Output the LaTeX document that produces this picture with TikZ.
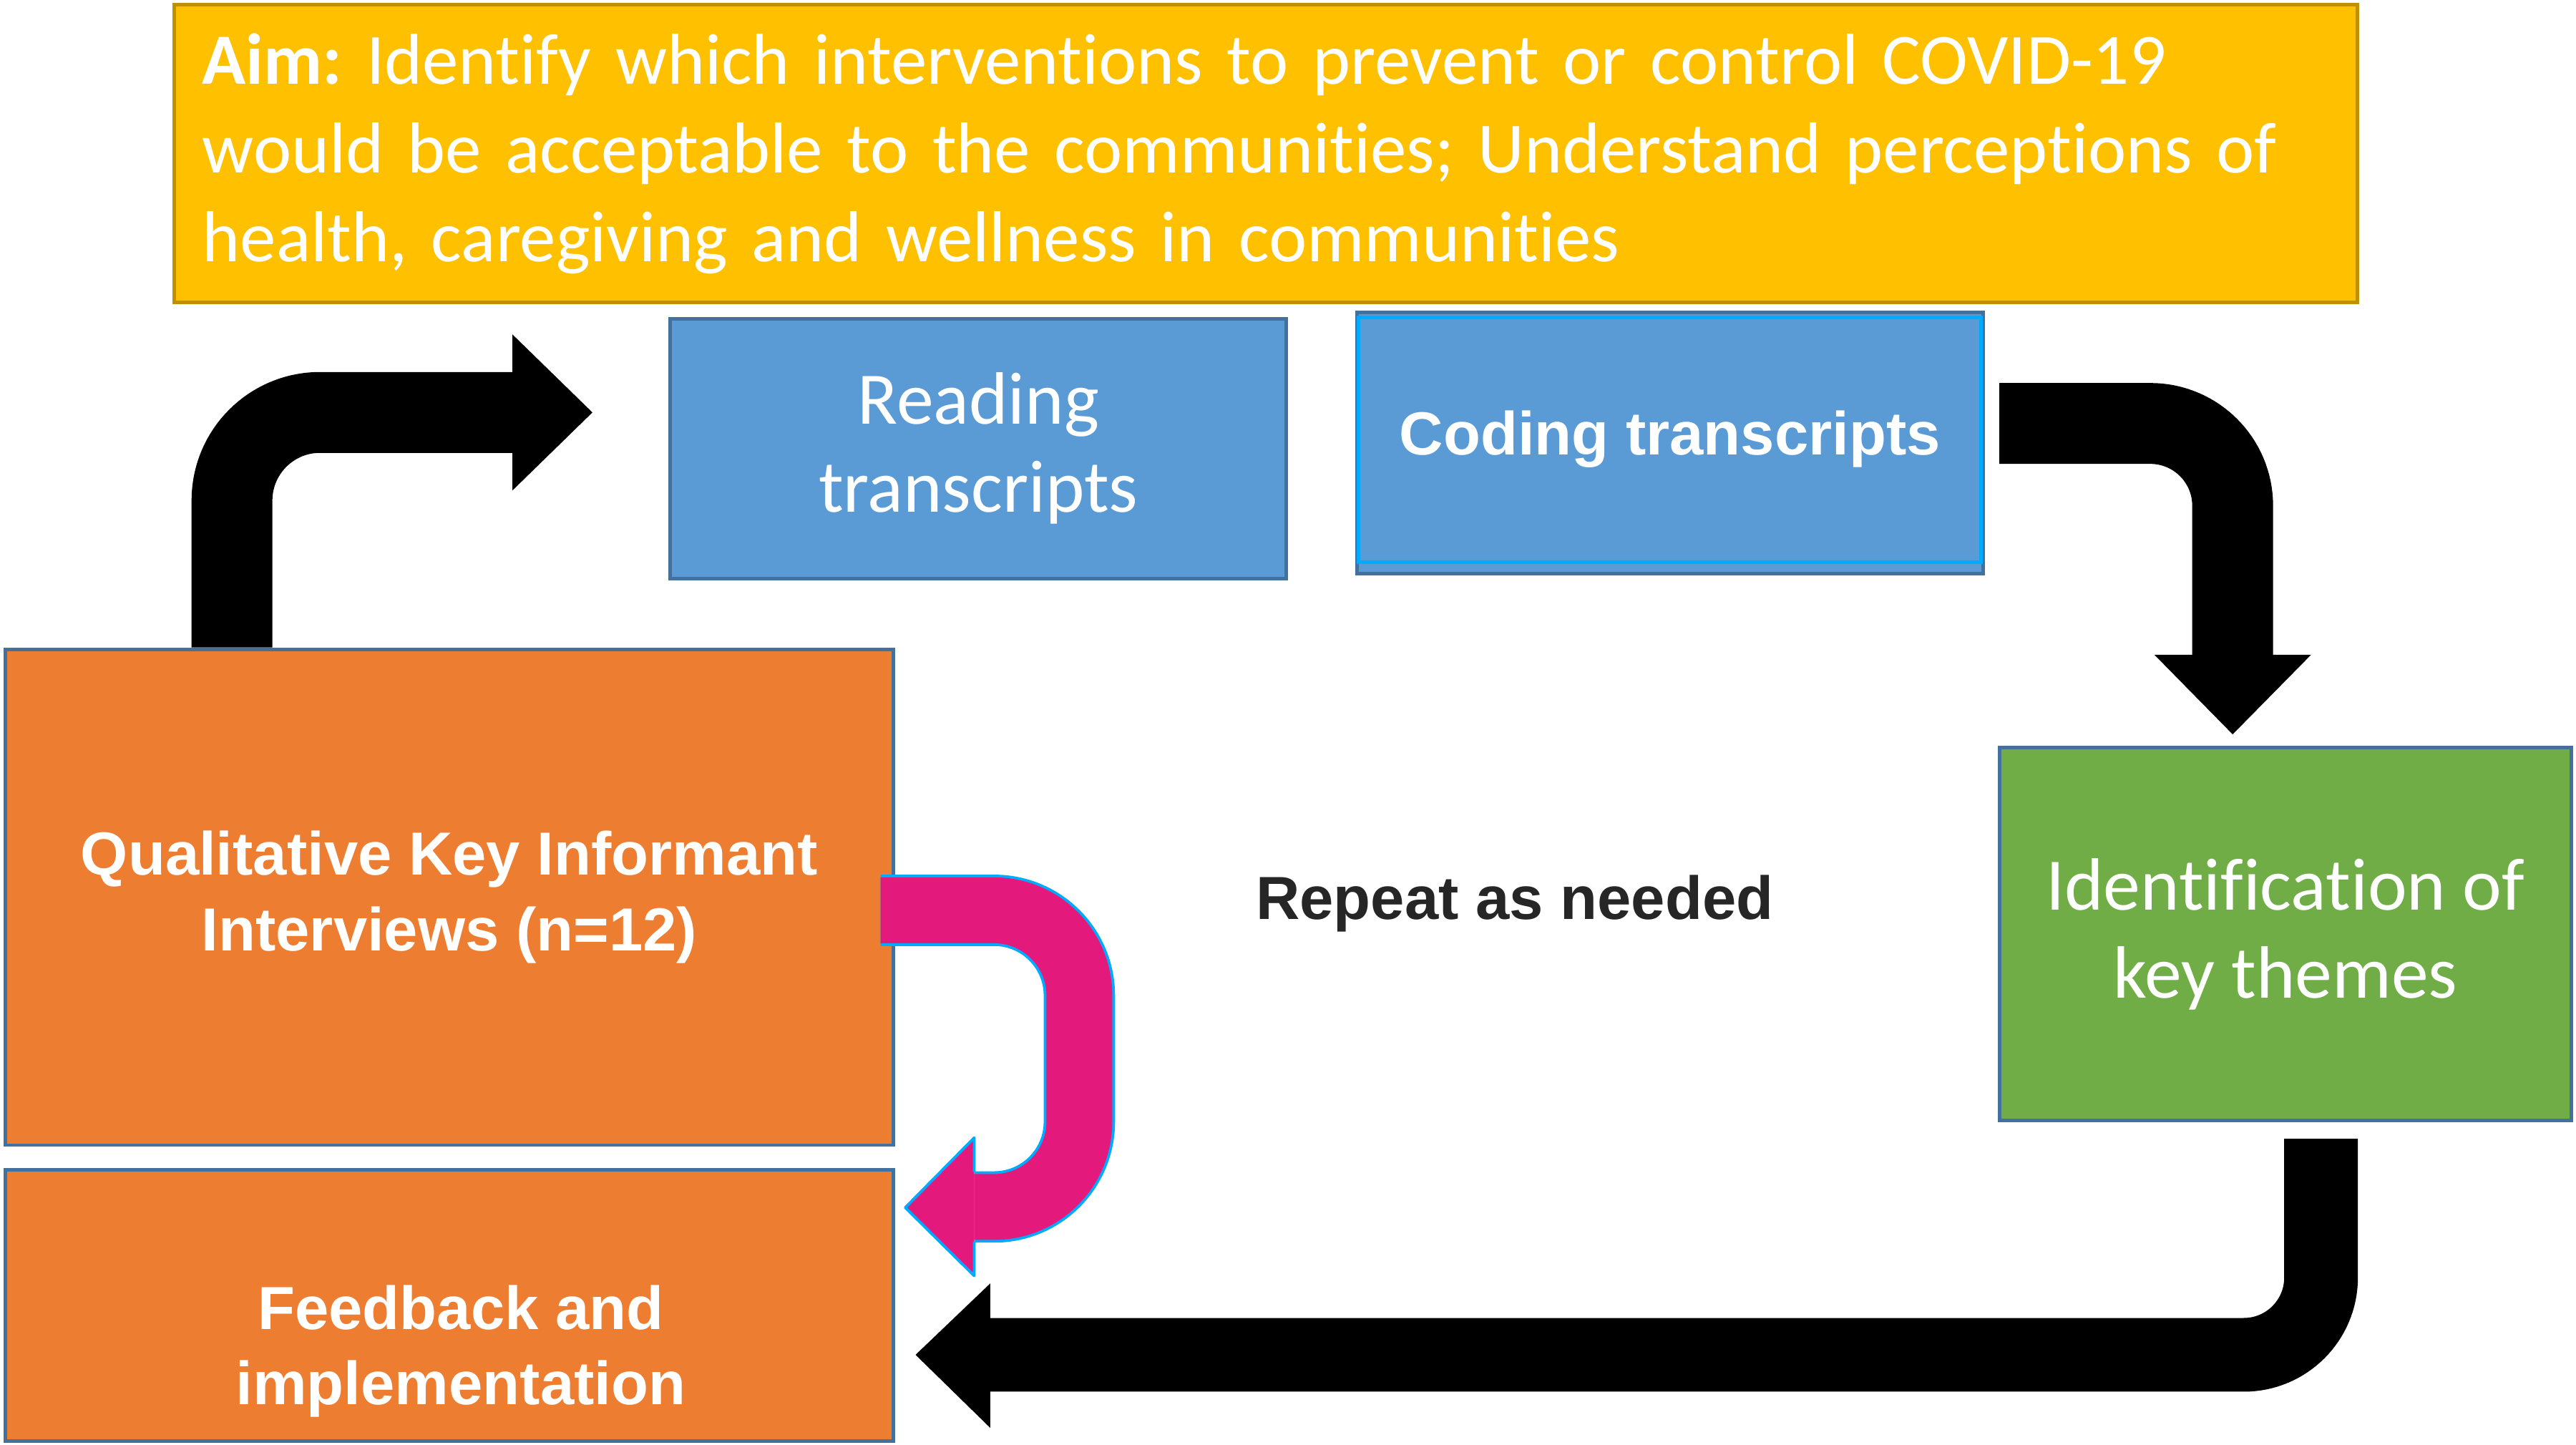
\documentclass[tikz,border=0pt]{standalone}
\usepackage{fontspec}
\setmainfont{Carlito}[Ligatures=NoCommon]
\newfontfamily\arialfont{Liberation Sans}
\usetikzlibrary{calc,backgrounds}
\frenchspacing

\definecolor{aimfill}{HTML}{FFC000}
\definecolor{aimline}{HTML}{BF9000}
\definecolor{boxblue}{HTML}{5B9BD5}
\definecolor{boxline}{HTML}{41719C}
\definecolor{boxorange}{HTML}{ED7D31}
\definecolor{boxgreen}{HTML}{70AD47}
\definecolor{loopfill}{HTML}{E3197B}
\definecolor{loopline}{HTML}{00AAFF}
\definecolor{labelgray}{HTML}{262626}

\begin{document}
\begin{tikzpicture}[
  x=0.02296cm, y=-0.02296cm,
  panel/.style={rectangle, draw=boxline, line width=1.4pt, inner sep=0pt,
                align=center, text=white},
  calibri/.style={font=\fontsize{29.5}{35}\selectfont},
  arial/.style={font=\arialfont\bfseries\fontsize{24.2}{30}\selectfont},
  shaft/.style={draw=black, line width=#1},
  backloop/.style={draw=loopline, line width=1.1pt, double=loopfill,
                   double distance=0.92cm},
]
\useasboundingbox (0,0) rectangle (1568,879);

% aim banner
\node[panel, font=\fontsize{28.7}{35.2}\selectfont, fill=aimfill, draw=aimline,
      align=left, text width=29.73cm, inner xsep=0.39cm, minimum height=4.16cm]
  (aim) at (770.5,93.5)
  {\textbf{Aim:} Identify which interventions to prevent or control COVID-19\\
   would be acceptable to the communities; Understand perceptions of\\
   health, caregiving and wellness in communities};

% analysis steps
\node[panel, calibri, fill=boxblue, minimum width=8.61cm, minimum height=3.63cm]
  (reading) at (595.5,273) {Reading\\transcripts};
\node[panel, arial, fill=boxblue, draw=loopline, minimum width=8.70cm,
      minimum height=3.42cm] (coding) at (1016.5,267.5) {Coding transcripts};
\node[panel, calibri, fill=boxgreen, minimum width=7.99cm, minimum height=5.21cm]
  (themes) at (1391,568.5) {Identification of\\key themes};

% interviews and feedback
\node[panel, arial, fill=boxorange, minimum width=12.42cm, minimum height=6.93cm]
  (qual) at (273.5,546) {Qualitative Key Informant\\Interviews (n=12)};
\node[panel, fill=boxorange, minimum width=12.42cm, minimum height=3.79cm,
      label={[arial, text=white, align=center, xshift=0.16cm, yshift=-0.64cm]center:{Feedback and\\implementation}}]
  (feedback) at (273.5,794.5) {};

\node[arial, text=labelgray] (repeat) at (922,550) {Repeat as needed};

% second outline under the coding box
\begin{scope}[on background layer]
  \draw[boxline, fill=boxblue, line width=1.4pt]
    ($(coding.north west)+(0,-2)$) rectangle ($(coding.south east)+(0,6)$);
\end{scope}

% black bent arrows round the loop
\coordinate (readtip) at (360.6,251);
\draw[shaft=1.13cm, rounded corners=1.23cm]
  ($(qual.north west)+(139.2,0)$) |- ($(readtip)+(-48.7,0)$);
\fill (readtip) -- ++(-48.7,-47.5) -- ++(0,95) -- cycle;

\coordinate (themestip) at (1359,446.9);
\draw[shaft=1.13cm, rounded corners=1.15cm]
  ($(coding.east)+(10,-9.8)$) -| ($(themestip)+(0,-48.4)$);
\fill (themestip) -- ++(-47.6,-48.4) -- ++(95.3,0) -- cycle;

\coordinate (feedtip) at (557.3,824.5);
\draw[shaft=1.03cm, rounded corners=1.08cm]
  ($(themes.south)+(21.8,10)$) |- ($(feedtip)+(45.5,0)$);
\fill (feedtip) -- ++(45.5,-43.5) -- ++(0,88) -- cycle;

% pink return arrow
\coordinate (loopend) at (593,734.5);
\draw[backloop, rounded corners=1.19cm]
  ($(qual.east)+(-9,8)$) -- ++(121,0) -- ++(0,180.5) -- (loopend);
\filldraw[fill=loopfill, draw=loopline, line width=1.1pt, line join=round]
  ($(loopend)+(0,-21.3)$) -- ++(0,-20.8) -- (551,734.9)
  -- ($(loopend)+(0,41.9)$) -- ++(0,-20.7);

\end{tikzpicture}
\end{document}
